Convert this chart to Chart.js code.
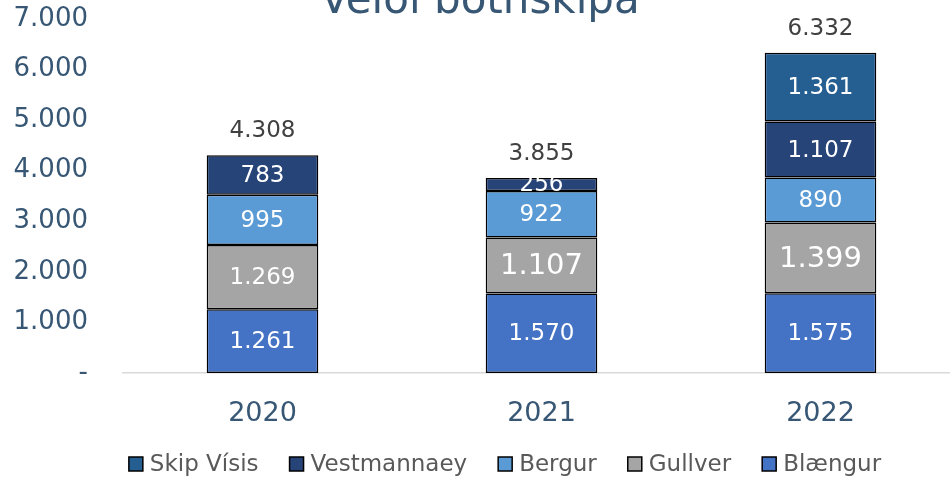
<!DOCTYPE html>
<html>
<head>
<meta charset="utf-8">
<script src="https://cdn.jsdelivr.net/npm/chart.js@4.4.1/dist/chart.umd.min.js"></script>
<style>
  html, body { margin: 0; padding: 0; overflow: hidden; background: #fff; }
</style>
</head>
<body>
<canvas id="chart" width="960" height="481"></canvas>
<script>
// --- Data ---
const chartTitle = 'Veiði botnskipa';
const years = ['2020', '2021', '2022'];
const blaengur = [1261, 1570, 1575];
const gullver = [1269, 1107, 1399];
const bergur = [995, 922, 890];
const vestmannaey = [783, 256, 1107];
const skipVisis = [0, 0, 1361];
const yTickValues = [0, 1000, 2000, 3000, 4000, 5000, 6000, 7000];

// --- Style ---
const FONT = "'DejaVu Sans', Verdana, sans-serif";
const axisColor = '#375774';
// labels Excel drew a bit larger: [datasetIndex, yearIndex]
const bigLabels = [[1, 1], [1, 2]];

function fmt(n) {
    if (n === 0) return '-';
    return String(n).replace(/\B(?=(\d{3})+(?!\d))/g, '.');
}

const series = [
    { label: 'Blængur', data: blaengur, color: '#4472C4' },
    { label: 'Gullver', data: gullver, color: '#A5A5A5' },
    { label: 'Bergur', data: bergur, color: '#5B9BD5' },
    { label: 'Vestmannaey', data: vestmannaey, color: '#264478' },
    { label: 'Skip Vísis', data: skipVisis, color: '#255E91' }
];

// Draws values inside the segments, totals on top, title and legend
const labelPlugin = {
    id: 'labels',
    afterDatasetsDraw(chart) {
        const ctx = chart.ctx;
        const yScale = chart.scales.y;
        ctx.save();
        ctx.textAlign = 'center';
        ctx.textBaseline = 'middle';
        chart.data.datasets.forEach((ds, di) => {
            const meta = chart.getDatasetMeta(di);
            meta.data.forEach((bar, i) => {
                const v = ds.data[i];
                if (!v) return;
                const big = bigLabels.some(b => b[0] === di && b[1] === i);
                ctx.font = (big ? 29 : 23) + 'px ' + FONT;
                ctx.fillStyle = '#ffffff';
                ctx.fillText(fmt(v), bar.x, (bar.y + bar.base) / 2 + 1);
            });
        });
        // totals
        ctx.font = '23px ' + FONT;
        ctx.fillStyle = '#404040';
        const meta0 = chart.getDatasetMeta(0);
        years.forEach((y, i) => {
            const total = series.reduce((s, d) => s + d.data[i], 0);
            ctx.fillText(fmt(total), meta0.data[i].x, yScale.getPixelForValue(total) - 24);
        });
        ctx.restore();
    },
    afterDraw(chart) {
        const ctx = chart.ctx;
        ctx.save();
        // title (cut off at the top like the original)
        ctx.font = '42px ' + FONT;
        ctx.fillStyle = axisColor;
        ctx.textAlign = 'center';
        ctx.textBaseline = 'alphabetic';
        ctx.fillText(chartTitle, 480, 13);

        // legend, reversed order
        ctx.font = '23px ' + FONT;
        ctx.textAlign = 'left';
        ctx.textBaseline = 'middle';
        const items = series.slice().reverse();
        const box = 14, gapText = 7, gapItem = 31;
        const widths = items.map(it => box + gapText + ctx.measureText(it.label).width);
        const total = widths.reduce((a, b) => a + b, 0) + gapItem * (items.length - 1);
        let x = 505 - total / 2;
        const yc = 464;
        items.forEach((it, i) => {
            ctx.fillStyle = it.color;
            ctx.fillRect(x, yc - box / 2, box, box);
            ctx.lineWidth = 1.5;
            ctx.strokeStyle = '#000';
            ctx.strokeRect(x, yc - box / 2, box, box);
            ctx.fillStyle = '#595959';
            ctx.fillText(it.label, x + box + gapText, yc + 1);
            x += widths[i] + gapItem;
        });
        ctx.restore();
    }
};

new Chart(document.getElementById('chart'), {
    type: 'bar',
    data: {
        labels: years,
        datasets: series.map(s => ({
            label: s.label,
            data: s.data,
            backgroundColor: s.color,
            borderColor: '#000000',
            borderWidth: 1.5,
            borderSkipped: false,
            categoryPercentage: 1,
            barPercentage: 0.4
        }))
    },
    options: {
        responsive: false,
        animation: false,
        devicePixelRatio: 1,
        layout: { padding: { top: 19, left: 0, right: 0, bottom: 0 } },
        plugins: {
            legend: { display: false },
            tooltip: { enabled: false },
            title: { display: false }
        },
        scales: {
            x: {
                stacked: true,
                grid: { display: false, drawTicks: false },
                border: { display: true, color: '#D9D9D9', width: 1.5 },
                ticks: {
                    color: axisColor,
                    font: { family: FONT, size: 27 },
                    padding: 25
                },
                afterFit(scale) {
                    scale.height = 108;
                    scale.paddingLeft = 0;
                    scale.paddingRight = 0;
                }
            },
            y: {
                stacked: true,
                min: 0,
                max: 7000,
                grid: { display: false, drawTicks: false },
                border: { display: false },
                afterBuildTicks(scale) {
                    scale.ticks = yTickValues.map(v => ({ value: v }));
                },
                ticks: {
                    color: axisColor,
                    font: { family: FONT, size: 26 },
                    padding: 35,
                    callback: v => fmt(v)
                },
                afterFit(scale) {
                    scale.width = 123;
                    scale.paddingTop = 0;
                    scale.paddingBottom = 0;
                }
            }
        }
    },
    plugins: [labelPlugin]
});
</script>
</body>
</html>
